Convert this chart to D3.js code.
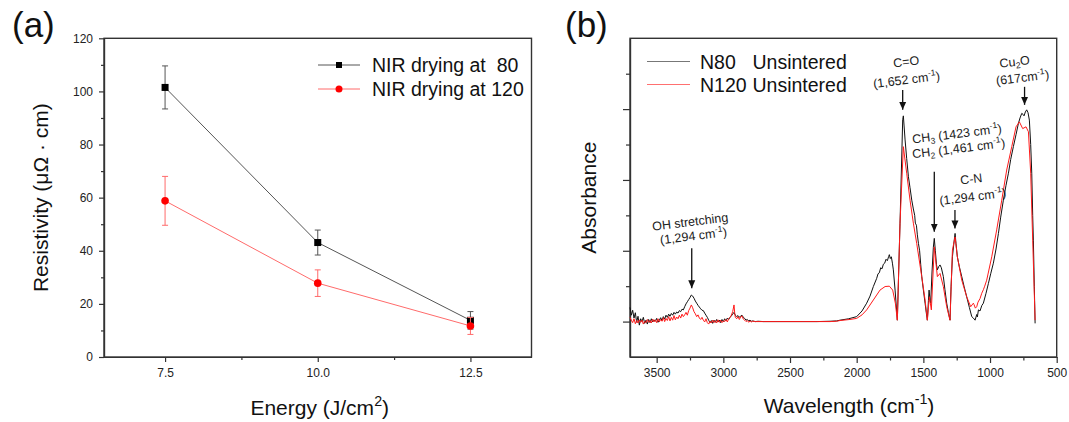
<!DOCTYPE html>
<html>
<head>
<meta charset="utf-8">
<script src="https://cdn.jsdelivr.net/npm/d3@7"></script>
<style>
body { margin: 0; background: #fff; }
svg { display: block; font-family: "Liberation Sans", Arial, sans-serif; }
.axis text { font-size: 12px; fill: #222; }
.axis path, .axis line { stroke: #333; stroke-width: 1.2; }
.frame { fill: none; stroke: #333; stroke-width: 1.4; }
</style>
</head>
<body>
<script>
//wrap everything in a self-executing anonymous function
(function () {

    //panel (a) data: resistivity vs NIR energy
    var energy = [7.5, 10.0, 12.5];
    var res80 = [101.5, 43.1, 13.8];
    var res80Err = [8.1, 4.7, 3.3];
    var res120 = [58.8, 27.8, 11.7];
    var res120Err = [9.2, 5.0, 3.2];
    var seriesA = ["NIR drying at  80", "NIR drying at 120"];
    var energyTicks = [7.5, 10.0, 12.5];
    var energyMinor = [8.75, 11.25];
    var resTicks = [0, 20, 40, 60, 80, 100, 120];
    var resMinor = [10, 30, 50, 70, 90, 110];

    //panel (b) data: FT-IR spectra [wavenumber, absorbance]
    var n80 = [
        [3700,0.140],[3690,0.118],[3680,0.132],[3670,0.110],[3660,0.125],[3650,0.098],[3640,0.115],[3630,0.090],
        [3620,0.108],[3610,0.100],[3600,0.112],[3590,0.095],[3580,0.104],[3570,0.093],[3560,0.106],[3550,0.097],
        [3540,0.108],[3530,0.099],[3520,0.105],[3510,0.101],[3500,0.109],[3490,0.098],[3480,0.104],[3470,0.111],
        [3460,0.103],[3450,0.114],[3440,0.107],[3430,0.118],[3420,0.112],[3410,0.121],[3400,0.115],[3390,0.123],
        [3380,0.118],[3370,0.126],[3360,0.121],[3350,0.127],[3340,0.124],[3330,0.131],[3320,0.128],[3310,0.135],
        [3300,0.133],[3290,0.142],[3280,0.150],[3270,0.156],[3260,0.162],[3250,0.168],[3240,0.175],[3230,0.172],
        [3220,0.166],[3210,0.158],[3200,0.152],[3190,0.146],[3180,0.141],[3170,0.136],[3160,0.132],[3150,0.131],
        [3140,0.124],[3130,0.118],[3120,0.112],[3110,0.104],[3100,0.097],[3090,0.103],[3080,0.095],[3070,0.104],
        [3060,0.098],[3050,0.106],[3040,0.099],[3030,0.104],[3020,0.097],[3010,0.106],[3000,0.100],[2990,0.108],
        [2980,0.102],[2970,0.110],[2960,0.106],[2950,0.112],[2940,0.116],[2930,0.121],[2920,0.126],[2910,0.118],
        [2900,0.114],[2890,0.117],[2880,0.112],[2870,0.116],[2860,0.118],[2850,0.112],[2840,0.109],[2830,0.104],
        [2820,0.106],[2810,0.102],[2800,0.104],[2790,0.101],[2780,0.102],[2760,0.100],[2740,0.101],[2700,0.100],
        [2600,0.100],[2500,0.100],[2400,0.100],[2300,0.100],[2200,0.101],[2150,0.102],[2125,0.104],[2060,0.108],
        [2000,0.114],[1960,0.130],[1925,0.152],[1900,0.172],[1875,0.199],[1850,0.222],[1840,0.235],[1830,0.238],
        [1820,0.252],[1810,0.249],[1800,0.262],[1790,0.265],[1780,0.276],[1770,0.272],[1760,0.284],[1755,0.289],
        [1748,0.278],[1740,0.283],[1732,0.265],[1725,0.246],[1712,0.189],[1695,0.104],[1675,0.378],[1655,0.670],
        [1650,0.681],[1645,0.655],[1637,0.613],[1625,0.560],[1612,0.509],[1600,0.478],[1587,0.443],[1575,0.418],
        [1565,0.400],[1560,0.378],[1552,0.372],[1545,0.345],[1537,0.321],[1528,0.300],[1520,0.262],[1512,0.227],
        [1500,0.190],[1487,0.152],[1478,0.125],[1470,0.104],[1462,0.160],[1457,0.189],[1450,0.160],[1445,0.152],
        [1435,0.240],[1425,0.310],[1418,0.335],[1410,0.300],[1402,0.262],[1395,0.246],[1385,0.255],[1375,0.260],
        [1365,0.252],[1350,0.227],[1338,0.190],[1325,0.152],[1312,0.125],[1300,0.104],[1292,0.200],[1282,0.283],
        [1270,0.325],[1262,0.349],[1255,0.320],[1245,0.283],[1230,0.255],[1212,0.227],[1195,0.200],[1175,0.170],
        [1155,0.140],[1137,0.114],[1125,0.110],[1112,0.104],[1100,0.120],[1095,0.113],[1087,0.133],[1075,0.130],
        [1062,0.145],[1050,0.152],[1030,0.180],[1012,0.208],[995,0.235],[975,0.265],[955,0.305],[937,0.349],
        [920,0.395],[900,0.443],[880,0.485],[862,0.519],[845,0.558],[825,0.594],[805,0.628],[787,0.660],
        [775,0.675],[762,0.688],[752,0.685],[745,0.681],[735,0.692],[725,0.698],[715,0.690],[705,0.669],
        [695,0.600],[687,0.519],[680,0.400],[675,0.330],[668,0.200],[662,0.095]
    ];
    var n120 = [
        [3700,0.112],[3690,0.104],[3680,0.097],[3670,0.108],[3660,0.094],[3650,0.103],[3640,0.096],[3630,0.105],
        [3620,0.098],[3610,0.104],[3600,0.093],[3590,0.101],[3580,0.097],[3570,0.106],[3560,0.098],[3550,0.103],
        [3540,0.096],[3530,0.107],[3520,0.099],[3510,0.105],[3500,0.097],[3490,0.108],[3480,0.099],[3470,0.106],
        [3460,0.101],[3450,0.111],[3440,0.100],[3430,0.109],[3420,0.103],[3410,0.114],[3400,0.102],[3390,0.112],
        [3380,0.104],[3370,0.117],[3360,0.105],[3350,0.113],[3340,0.108],[3330,0.118],[3320,0.110],[3310,0.121],
        [3300,0.114],[3290,0.119],[3280,0.126],[3270,0.118],[3260,0.131],[3250,0.138],[3240,0.147],[3230,0.139],
        [3220,0.128],[3210,0.122],[3200,0.114],[3190,0.119],[3180,0.110],[3170,0.106],[3160,0.112],[3150,0.104],
        [3140,0.099],[3130,0.108],[3120,0.097],[3110,0.093],[3100,0.101],[3090,0.096],[3080,0.104],[3070,0.097],
        [3060,0.103],[3050,0.096],[3040,0.105],[3030,0.098],[3020,0.104],[3010,0.097],[3000,0.102],[2990,0.100],
        [2980,0.106],[2970,0.099],[2960,0.108],[2950,0.112],[2940,0.118],[2930,0.128],[2920,0.147],[2915,0.125],
        [2910,0.112],[2900,0.108],[2890,0.114],[2880,0.106],[2870,0.113],[2860,0.116],[2850,0.107],[2840,0.104],
        [2830,0.100],[2820,0.103],[2810,0.098],[2800,0.102],[2790,0.099],[2780,0.101],[2760,0.100],[2700,0.100],
        [2600,0.100],[2500,0.100],[2400,0.100],[2300,0.100],[2200,0.100],[2150,0.101],[2125,0.103],[2050,0.106],
        [2000,0.109],[1960,0.119],[1925,0.133],[1875,0.161],[1825,0.189],[1787,0.199],[1755,0.200],[1730,0.189],
        [1710,0.152],[1695,0.104],[1675,0.378],[1650,0.594],[1625,0.519],[1600,0.443],[1575,0.378],[1550,0.321],
        [1512,0.227],[1487,0.161],[1470,0.104],[1455,0.170],[1440,0.133],[1418,0.311],[1395,0.227],[1375,0.236],
        [1350,0.199],[1325,0.142],[1300,0.104],[1282,0.302],[1262,0.339],[1245,0.283],[1212,0.217],[1175,0.170],
        [1145,0.142],[1125,0.152],[1120,0.148],[1110,0.138],[1100,0.142],[1090,0.155],[1075,0.165],[1062,0.180],
        [1050,0.190],[1040,0.200],[1025,0.217],[987,0.283],[950,0.359],[912,0.443],[875,0.528],[837,0.594],
        [805,0.650],[780,0.664],[755,0.645],[730,0.650],[712,0.636],[695,0.519],[680,0.330],[662,0.104]
    ];
    var seriesB = ["N80", "N120"];
    var waveTicks = [3500, 3000, 2500, 2000, 1500, 1000, 500];
    var waveMinor = [3250, 2750, 2250, 1750, 1250, 750];
    var absTicks = [0.1, 0.3, 0.5, 0.7];
    var absMinor = [0.2, 0.4, 0.6, 0.8];

    //band assignments: arrow wavenumber, arrow tail and tip absorbance
    var arrowWave = [1655, 741, 1418, 1263, 3237];
    var arrowFrom = [0.754, 0.763, 0.523, 0.415, 0.307];
    var arrowTo = [0.698, 0.712, 0.354, 0.363, 0.194];
    var labelText = ["C=O", "(1,652 cm^{-1})", "Cu_{2}O", "(617cm^{-1})",
        "CH_{3} (1423 cm^{-1})", "CH_{2} (1,461 cm^{-1})", "C-N", "(1,294 cm^{-1})",
        "OH stretching", "(1,294 cm^{-1})"];
    var labelWave = [1625, 1622, 812, 752, 1580, 1580, 1137, 1125, 3245, 3220];
    var labelAbs = [0.822, 0.771, 0.822, 0.777, 0.603, 0.561, 0.491, 0.441, 0.370, 0.330];

    var colors = ["#111", "#ff1a1a"];

    var svg = d3.select("body")
        .append("svg")
        .attr("width", 1069)
        .attr("height", 422);

    //arrow head marker
    svg.append("defs").append("marker")
        .attr("id", "head")
        .attr("markerUnits", "userSpaceOnUse")
        .attr("markerWidth", 8).attr("markerHeight", 8)
        .attr("refX", 8).attr("refY", 4)
        .attr("orient", "auto")
        .append("path")
        .attr("d", "M0,0.5 L8,4 L0,7.5 Z")
        .attr("fill", "#111");

    //text with ^{sup} and _{sub} parts
    function richText(sel, str, size) {
        var parts = str.split(/(\^\{[^}]*\}|_\{[^}]*\})/);
        var shift = 0;
        parts.forEach(function (p) {
            if (!p) return;
            var t = sel.append("tspan"), d = 0;
            if (p[0] == "^") {
                d = -0.42 * size; p = p.slice(2, -1);
                t.style("font-size", (size * 0.68) + "px");
            } else if (p[0] == "_") {
                d = 0.22 * size; p = p.slice(2, -1);
                t.style("font-size", (size * 0.68) + "px");
            }
            t.attr("dy", d - shift).text(p);
            shift = d;
        });
    }

    setPanelA();
    setPanelB();

    function setPanelA() {
        var left = 104, right = 531.5, top = 38.3, bottom = 357;

        var x = d3.scaleLinear().domain([6.5, 13.5]).range([left, right]);
        var y = d3.scaleLinear().domain([0, 120]).range([bottom, top]);

        var g = svg.append("g");

        //axes with outward ticks
        g.append("g").attr("class", "axis")
            .attr("transform", "translate(0," + bottom + ")")
            .call(d3.axisBottom(x).tickValues(energyTicks).tickFormat(d3.format(".1f"))
                .tickSize(5).tickSizeOuter(0).tickPadding(6));
        g.append("g").attr("class", "axis")
            .attr("transform", "translate(0," + bottom + ")")
            .call(d3.axisBottom(x).tickValues(energyMinor).tickFormat("").tickSize(3).tickSizeOuter(0));
        g.append("g").attr("class", "axis")
            .attr("transform", "translate(" + left + ",0)")
            .call(d3.axisLeft(y).tickValues(resTicks).tickSize(5).tickSizeOuter(0).tickPadding(6));
        g.append("g").attr("class", "axis")
            .attr("transform", "translate(" + left + ",0)")
            .call(d3.axisLeft(y).tickValues(resMinor).tickFormat("").tickSize(3).tickSizeOuter(0));

        g.append("rect").attr("class", "frame")
            .attr("x", left).attr("y", top)
            .attr("width", right - left).attr("height", bottom - top);

        var lineColors = ["#555", "#ff6b6b"];
        var sets = [
            {vals: res80, err: res80Err},
            {vals: res120, err: res120Err}
        ];

        var line = d3.line()
            .x(function (d) { return x(d[0]); })
            .y(function (d) { return y(d[1]); });

        sets.forEach(function (s, k) {
            var pts = energy.map(function (e, i) { return [e, s.vals[i], s.err[i]]; });

            g.append("path")
                .datum(pts)
                .attr("d", line)
                .attr("fill", "none")
                .attr("stroke", lineColors[k])
                .attr("stroke-width", 1);

            //error bars
            var eb = g.selectAll(".err" + k)
                .data(pts).enter().append("g")
                .attr("stroke", lineColors[k])
                .attr("stroke-width", 1);
            eb.append("line")
                .attr("x1", function (d) { return x(d[0]); })
                .attr("x2", function (d) { return x(d[0]); })
                .attr("y1", function (d) { return y(d[1] - d[2]); })
                .attr("y2", function (d) { return y(d[1] + d[2]); });
            [-1, 1].forEach(function (sgn) {
                eb.append("line")
                    .attr("x1", function (d) { return x(d[0]) - 3; })
                    .attr("x2", function (d) { return x(d[0]) + 3; })
                    .attr("y1", function (d) { return y(d[1] + sgn * d[2]); })
                    .attr("y2", function (d) { return y(d[1] + sgn * d[2]); });
            });

            //markers
            if (k == 0) {
                g.selectAll(".sq").data(pts).enter().append("rect")
                    .attr("x", function (d) { return x(d[0]) - 3.5; })
                    .attr("y", function (d) { return y(d[1]) - 3.5; })
                    .attr("width", 7).attr("height", 7)
                    .attr("fill", "#000");
            } else {
                g.selectAll(".ci").data(pts).enter().append("circle")
                    .attr("cx", function (d) { return x(d[0]); })
                    .attr("cy", function (d) { return y(d[1]); })
                    .attr("r", 3.8)
                    .attr("fill", "#ff0000");
            }
        });

        //legend
        seriesA.forEach(function (name, k) {
            var ly = 65 + k * 24;
            g.append("line")
                .attr("x1", 318).attr("x2", 360)
                .attr("y1", ly).attr("y2", ly)
                .attr("stroke", lineColors[k]).attr("stroke-width", 1);
            if (k == 0) {
                g.append("rect").attr("x", 336).attr("y", ly - 3).attr("width", 6).attr("height", 6).attr("fill", "#000");
            } else {
                g.append("circle").attr("cx", 339).attr("cy", ly).attr("r", 3.5).attr("fill", "#ff0000");
            }
            g.append("text")
                .attr("x", 372).attr("y", ly + 7)
                .attr("xml:space", "preserve")
                .style("white-space", "pre")
                .style("font-size", "19.5px")
                .attr("fill", "#111")
                .text(name);
        });

        //axis titles and panel label
        g.append("text")
            .attr("transform", "translate(48," + ((top + bottom) / 2) + ") rotate(-90)")
            .attr("text-anchor", "middle")
            .style("font-size", "21px").attr("fill", "#111")
            .text("Resistivity (\u03bc\u03a9 \u00b7 cm)");
        var xt = g.append("text")
            .attr("x", (left + right) / 2 + 2).attr("y", 415)
            .attr("text-anchor", "middle")
            .style("font-size", "21px").attr("fill", "#111");
        richText(xt, "Energy (J/cm^{2})", 21);
        g.append("text").attr("x", 12).attr("y", 37)
            .style("font-size", "35px").attr("fill", "#111").text("(a)");
    }

    function setPanelB() {
        var left = 630, right = 1056.7, top = 38.3, bottom = 357;

        var x = d3.scaleLinear().domain([3700, 500]).range([left, right]);
        var y = d3.scaleLinear().domain([0, 0.9]).range([bottom, top]);

        var g = svg.append("g");

        g.append("g").attr("class", "axis")
            .attr("transform", "translate(0," + bottom + ")")
            .call(d3.axisBottom(x).tickValues(waveTicks).tickFormat(d3.format("d"))
                .tickSize(6).tickSizeOuter(0).tickPadding(5));
        g.append("g").attr("class", "axis")
            .attr("transform", "translate(0," + bottom + ")")
            .call(d3.axisBottom(x).tickValues(waveMinor).tickFormat("").tickSize(3.5).tickSizeOuter(0));
        g.append("g").attr("class", "axis")
            .attr("transform", "translate(" + left + ",0)")
            .call(d3.axisLeft(y).tickValues(absTicks).tickFormat("").tickSize(7).tickSizeOuter(0));
        g.append("g").attr("class", "axis")
            .attr("transform", "translate(" + left + ",0)")
            .call(d3.axisLeft(y).tickValues(absMinor).tickFormat("").tickSize(4).tickSizeOuter(0));

        g.append("rect").attr("class", "frame")
            .attr("x", left).attr("y", top)
            .attr("width", right - left).attr("height", bottom - top);

        var line = d3.line()
            .x(function (d) { return x(d[0]); })
            .y(function (d) { return y(d[1]); });

        [n80, n120].forEach(function (spec, k) {
            g.append("path")
                .datum(spec)
                .attr("d", line)
                .attr("fill", "none")
                .attr("stroke", colors[k])
                .attr("stroke-width", 1)
                .attr("stroke-linejoin", "round");
        });

        //arrows
        arrowWave.forEach(function (w, i) {
            g.append("line")
                .attr("x1", x(w)).attr("x2", x(w))
                .attr("y1", y(arrowFrom[i])).attr("y2", y(arrowTo[i]))
                .attr("stroke", "#111").attr("stroke-width", 1.3)
                .attr("marker-end", "url(#head)");
        });

        //band labels, slightly tilted as in the figure
        labelText.forEach(function (txt, i) {
            var lx = x(labelWave[i]), ly = y(labelAbs[i]);
            var t = g.append("text")
                .attr("transform", "translate(" + lx + "," + ly + ") rotate(-7)")
                .attr("text-anchor", (i == 4 || i == 5) ? "start" : "middle")
                .style("font-size", "12.5px").attr("fill", "#222");
            richText(t, txt, 12.5);
        });

        //legend
        seriesB.forEach(function (name, k) {
            var ly = 61.5 + k * 23;
            g.append("line")
                .attr("x1", 647).attr("x2", 690)
                .attr("y1", ly).attr("y2", ly)
                .attr("stroke", k == 0 ? "#777" : "#ff7070").attr("stroke-width", 1);
            g.append("text").attr("x", 700).attr("y", ly + 7)
                .style("font-size", "19.5px").attr("fill", "#111").text(name);
            g.append("text").attr("x", 752.5).attr("y", ly + 7)
                .style("font-size", "19.5px").attr("fill", "#111").text("Unsintered");
        });

        g.append("text")
            .attr("transform", "translate(596," + ((top + bottom) / 2) + ") rotate(-90)")
            .attr("text-anchor", "middle")
            .style("font-size", "21px").attr("fill", "#111")
            .text("Absorbance");
        var xt = g.append("text")
            .attr("x", 849).attr("y", 413)
            .attr("text-anchor", "middle")
            .style("font-size", "21px").attr("fill", "#111");
        richText(xt, "Wavelength (cm^{-1})", 21);
        g.append("text").attr("x", 565).attr("y", 37)
            .style("font-size", "35px").attr("fill", "#111").text("(b)");
    }

})();
</script>
</body>
</html>
